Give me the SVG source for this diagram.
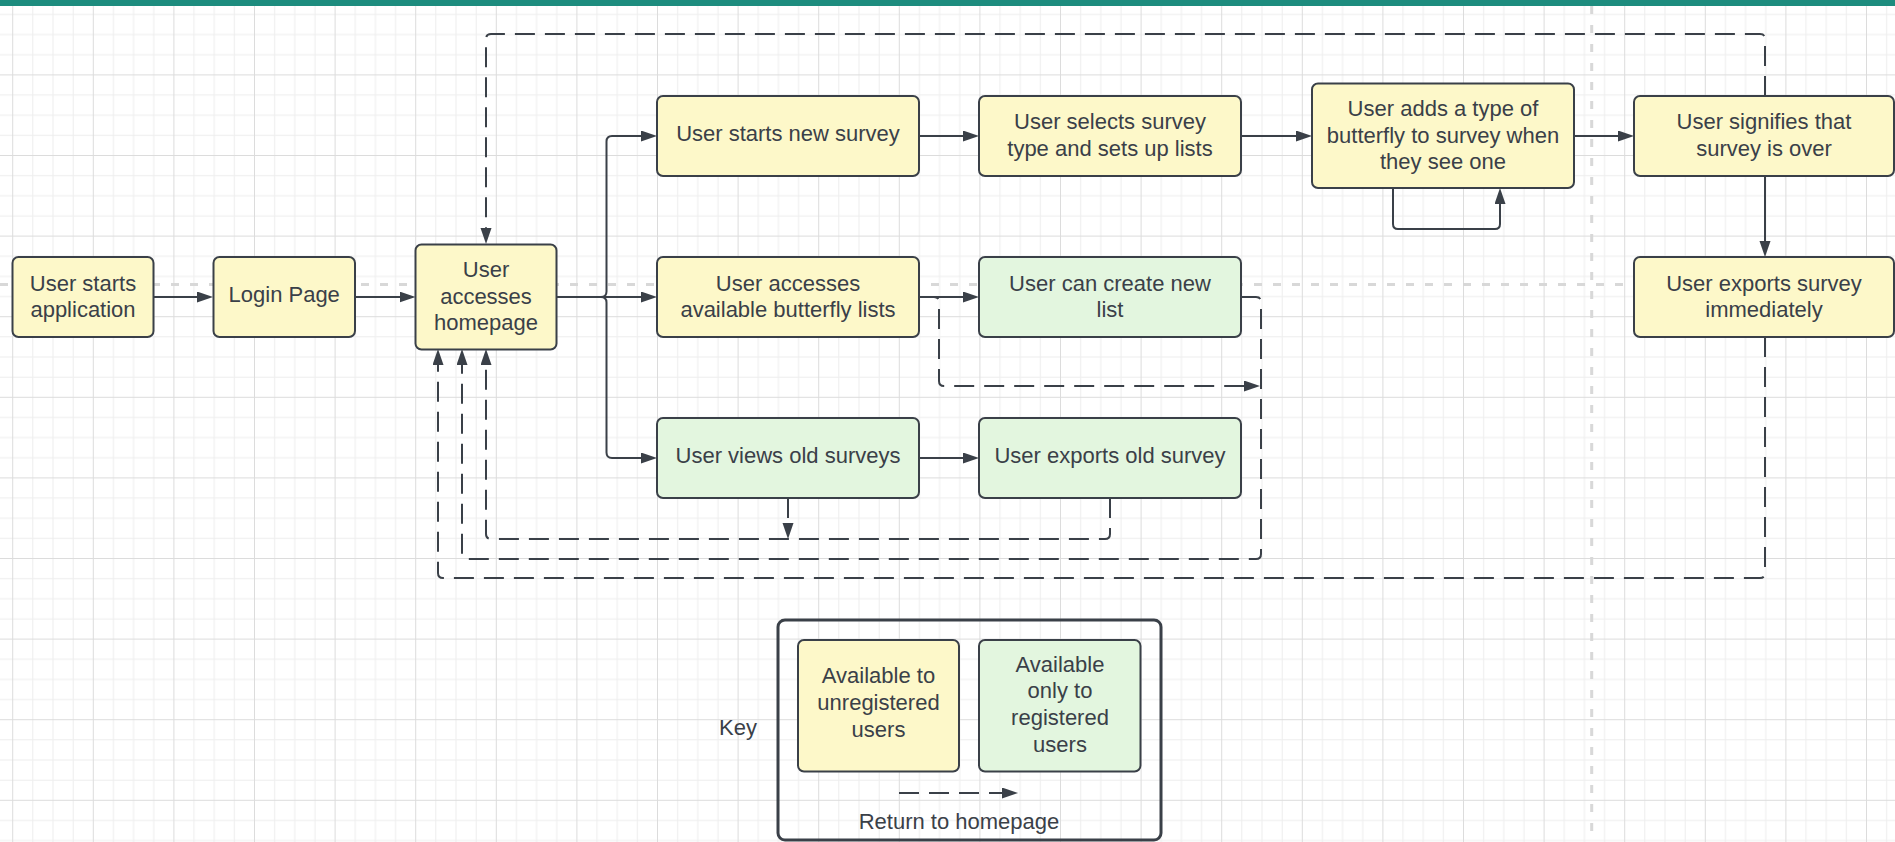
<svg xmlns="http://www.w3.org/2000/svg" width="1895" height="842" viewBox="0 0 1895 842">
  <style>
    .box { stroke: #3a4048; stroke-width: 2; }
    .yellow { fill: #fdf8c9; }
    .green { fill: #e3f6df; }
    .label { font-family: "Liberation Sans", Arial, sans-serif; font-size: 22px; fill: #3a4048; text-anchor: middle; }
    .edge { fill: none; stroke: #3a4048; stroke-width: 2; stroke-linejoin: round; }
    .ret { stroke-dasharray: 20 10; }
    .pagebreak { fill: none; stroke: #d8d8d8; stroke-width: 3; stroke-dasharray: 8 11; }
  </style>
  <defs>
    <pattern id="grid" patternUnits="userSpaceOnUse" x="12.2" y="74.4" width="80.6" height="80.6">
      <g fill="#ededed">
        <rect x="20.15" y="0" width="1" height="80.6"/>
        <rect x="40.3" y="0" width="1" height="80.6"/>
        <rect x="60.45" y="0" width="1" height="80.6"/>
        <rect x="0" y="20.15" width="80.6" height="1"/>
        <rect x="0" y="40.3" width="80.6" height="1"/>
        <rect x="0" y="60.45" width="80.6" height="1"/>
      </g>
      <g fill="#dcdcdc">
        <rect x="0" y="0" width="1" height="80.6"/>
        <rect x="0" y="0" width="80.6" height="1"/>
      </g>
    </pattern>
    <marker id="arrow" markerUnits="userSpaceOnUse" markerWidth="17" markerHeight="12" refX="13" refY="5.5" orient="auto">
      <path d="M0,0 L16,5.5 L0,11 Z" fill="#3a4048"/>
    </marker>
  </defs>

  <!-- canvas -->
  <rect width="1895" height="842" fill="#ffffff"/>
  <rect width="1895" height="842" fill="url(#grid)"/>
  <rect width="1895" height="6" fill="#1d8c7e"/>

  <!-- page break guides -->
  <g id="page-breaks">
    <path class="pagebreak" d="M0,284.5 H1895"/>
    <path class="pagebreak" d="M1591.7,6 V842"/>
  </g>

  <g id="connectors">
    <!-- main flow -->
    <path class="edge" d="M153.5,297 H210" marker-end="url(#arrow)"/>
    <path class="edge" d="M355,297 H412.5" marker-end="url(#arrow)"/>
    <path class="edge" d="M556.5,297 H601 Q606.5,297 606.5,291.5 V141.5 Q606.5,136 612,136 H654" marker-end="url(#arrow)"/>
    <path class="edge" d="M556.5,297 H654" marker-end="url(#arrow)"/>
    <path class="edge" d="M556.5,297 H601 Q606.5,297 606.5,302.5 V452.5 Q606.5,458 612,458 H654" marker-end="url(#arrow)"/>
    <path class="edge" d="M919,136 H976" marker-end="url(#arrow)"/>
    <path class="edge" d="M1241,136 H1309" marker-end="url(#arrow)"/>
    <path class="edge" d="M1574,136 H1631" marker-end="url(#arrow)"/>
    <path class="edge" d="M1393,188 V224 Q1393,229 1398,229 H1495 Q1500,229 1500,224 V191" marker-end="url(#arrow)"/>
    <path class="edge" d="M1765,176 V254" marker-end="url(#arrow)"/>
    <path class="edge" d="M919,297 H976" marker-end="url(#arrow)"/>
    <path class="edge" d="M919,458 H976" marker-end="url(#arrow)"/>
    <!-- returns to homepage -->
    <path class="edge ret" d="M1765,96 V39 Q1765,34 1760,34 H491 Q486,34 486,39 V241" marker-end="url(#arrow)"/>
    <path class="edge ret" d="M1765,337 V573 Q1765,578 1760,578 H443 Q438,578 438,573 V352" marker-end="url(#arrow)"/>
    <path class="edge ret" d="M1241,297 H1256 Q1261,297 1261,302 V554 Q1261,559 1256,559 H467 Q462,559 462,554 V352" marker-end="url(#arrow)"/>
    <path class="edge ret" d="M919,297 H934 Q939,297 939,302 V381 Q939,386 944,386 H1257" marker-end="url(#arrow)"/>
    <path class="edge ret" d="M788,498 V536" marker-end="url(#arrow)"/>
    <path class="edge ret" d="M1110,498 V534 Q1110,539 1105,539 H491 Q486,539 486,534 V352" marker-end="url(#arrow)"/>
  </g>

  <g id="node-start">
    <rect class="box yellow" x="12.5" y="257" width="141" height="80" rx="6"/>
    <text class="label" x="83" y="290.5">User starts</text>
    <text class="label" x="83" y="317">application</text>
  </g>
  <g id="node-login">
    <rect class="box yellow" x="213.5" y="257" width="141.5" height="80" rx="6"/>
    <text class="label" x="284.2" y="301.5">Login Page</text>
  </g>
  <g id="node-homepage">
    <rect class="box yellow" x="415.5" y="244.5" width="141" height="105" rx="6"/>
    <text class="label" x="486" y="277">User</text>
    <text class="label" x="486" y="303.5">accesses</text>
    <text class="label" x="486" y="330">homepage</text>
  </g>
  <g id="node-new-survey">
    <rect class="box yellow" x="657" y="96" width="262" height="80" rx="6"/>
    <text class="label" x="788" y="140.5">User starts new survey</text>
  </g>
  <g id="node-survey-type">
    <rect class="box yellow" x="979" y="96" width="262" height="80" rx="6"/>
    <text class="label" x="1110" y="129.3">User selects survey</text>
    <text class="label" x="1110" y="156">type and sets up lists</text>
  </g>
  <g id="node-add-butterfly">
    <rect class="box yellow" x="1312" y="83.5" width="262" height="104.5" rx="6"/>
    <text class="label" x="1443" y="116">User adds a type of</text>
    <text class="label" x="1443" y="142.7">butterfly to survey when</text>
    <text class="label" x="1443" y="169.3">they see one</text>
  </g>
  <g id="node-survey-over">
    <rect class="box yellow" x="1634" y="96" width="260" height="80" rx="6"/>
    <text class="label" x="1764" y="129.3">User signifies that</text>
    <text class="label" x="1764" y="156">survey is over</text>
  </g>
  <g id="node-lists">
    <rect class="box yellow" x="657" y="257" width="262" height="80" rx="6"/>
    <text class="label" x="788" y="290.5">User accesses</text>
    <text class="label" x="788" y="317">available butterfly lists</text>
  </g>
  <g id="node-create-list">
    <rect class="box green" x="979" y="257" width="262" height="80" rx="6"/>
    <text class="label" x="1110" y="290.5">User can create new</text>
    <text class="label" x="1110" y="317">list</text>
  </g>
  <g id="node-export-now">
    <rect class="box yellow" x="1634" y="257" width="260" height="80" rx="6"/>
    <text class="label" x="1764" y="290.5">User exports survey</text>
    <text class="label" x="1764" y="317">immediately</text>
  </g>
  <g id="node-old-surveys">
    <rect class="box green" x="657" y="418" width="262" height="80" rx="6"/>
    <text class="label" x="788" y="462.5">User views old surveys</text>
  </g>
  <g id="node-export-old">
    <rect class="box green" x="979" y="418" width="262" height="80" rx="6"/>
    <text class="label" x="1110" y="462.5">User exports old survey</text>
  </g>

  <g id="key">
    <text class="label" x="738" y="735">Key</text>
    <rect x="778" y="620" width="383" height="220" rx="7" fill="none" stroke="#3a4048" stroke-width="3"/>
    <rect class="box yellow" x="798" y="640" width="161" height="131.5" rx="6"/>
    <text class="label" x="878.5" y="683.3">Available to</text>
    <text class="label" x="878.5" y="710">unregistered</text>
    <text class="label" x="878.5" y="736.7">users</text>
    <rect class="box green" x="979" y="640" width="161.5" height="131.5" rx="6"/>
    <text class="label" x="1060" y="671.7">Available</text>
    <text class="label" x="1060" y="698.3">only to</text>
    <text class="label" x="1060" y="725.3">registered</text>
    <text class="label" x="1060" y="752">users</text>
    <path class="edge ret" d="M899,793 H1015" marker-end="url(#arrow)"/>
    <text class="label" x="959" y="828.5">Return to homepage</text>
  </g>
</svg>
